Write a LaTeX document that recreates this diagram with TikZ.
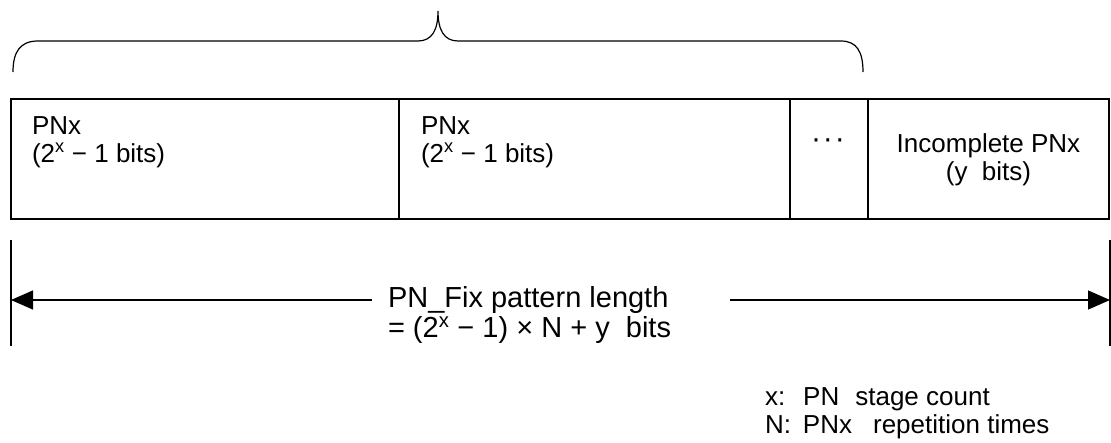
\documentclass[tikz,border=0pt]{standalone}
\usepackage{fontspec}
\setmainfont{Liberation Sans}
\usetikzlibrary{arrows.meta}
\begin{document}
\begin{tikzpicture}[x=1pt,y=-1pt,
  line width=1.2pt,
  cell/.style={draw, line width=1.2pt, inner sep=0pt, outer sep=0pt, minimum height=120pt},
  lbl/.style={inner sep=0pt, outer sep=0pt, font=\fontsize{26}{28}\selectfont},
  bigl/.style={inner sep=0pt, outer sep=0pt, anchor=base west, font=\fontsize{29}{31}\selectfont},
  bl/.style={lbl, anchor=base west},
  bc/.style={lbl, anchor=base},
  tip/.style={-{Triangle[length=22pt,width=19pt]}}]
\useasboundingbox (0,0) rectangle (1111,442);
% brace
\draw (13,72) .. controls (13,52) and (20,41) .. (38,41) -- (418,41)
  .. controls (432,41) and (438,30) .. (438,11)
  .. controls (438,30) and (444,41) .. (458,41) -- (841,41)
  .. controls (857,41) and (863,52) .. (863,72);
% cells
\node[cell, minimum width=388pt] (c1) at (205,159) {};
\node[cell, minimum width=391pt] (c2) at (594.5,159) {};
\node[cell, minimum width=78pt] (c3) at (829,159) {};
\node[cell, minimum width=241pt] (c4) at (988.5,159) {};
\draw[line width=2pt] (c3.north east) -- (c3.south east);
% cell texts
\node[bl] (t1a) at (32,134) {PNx};
\node[bl] (t1b) at (32,162) {(2\textsuperscript{x} − 1 bits)};
\node[bl] (t2a) at (421,134) {PNx};
\node[bl] (t2b) at (421,162) {(2\textsuperscript{x} − 1 bits)};
\node[inner sep=0pt, outer sep=0pt, anchor=center, font=\fontsize{30}{30}\selectfont] (t3) at (828,144) {·\hspace{2pt}·\hspace{2pt}·};
\node[bc] (t4a) at (988.5,152) {Incomplete PNx};
\node[bc] (t4b) at (988.5,180) {(y\ \ bits)};
% dimension
\coordinate (lt) at (11,240); \coordinate (lb) at (11,346);
\coordinate (rt) at (1110,240); \coordinate (rb) at (1110,346);
\coordinate (lm) at (11,300); \coordinate (rm) at (1110,300);
\coordinate (la) at (372,300); \coordinate (ra) at (730,300);
\draw (lt) -- (lb);
\draw (rt) -- (rb);
\draw[tip] (la) -- (lm);
\draw[tip] (ra) -- (rm);
\node[bigl] (m1) at (388,307) {PN\_Fix pattern length};
\node[bigl] (m2) at (388,337) {= (2\textsuperscript{x} − 1) × N + y\ \ bits};
% legend
\node[bl] (k1) at (765,405) {x:\hspace{18pt}PN\hspace{16pt}stage count};
\node[bl] (k2) at (765,433) {N:\hspace{12pt}PNx\hspace{21pt}repetition times};
\end{tikzpicture}
\end{document}
